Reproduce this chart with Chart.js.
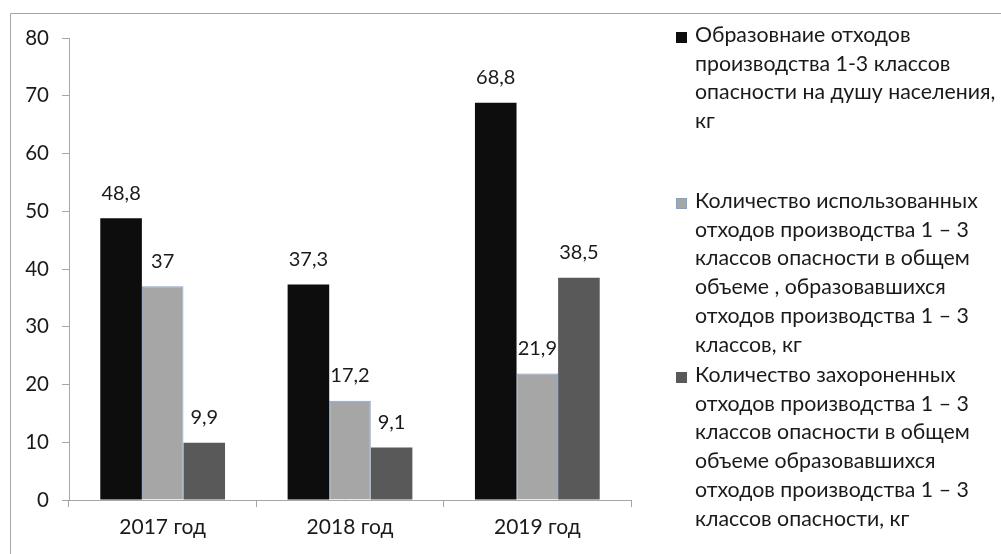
<!DOCTYPE html>
<html>
<head>
<meta charset="utf-8">
<script src="https://cdn.jsdelivr.net/npm/chart.js@4"></script>
<style>
  html, body { margin: 0; padding: 0; background: #fff; }
  #wrap { width: 1001px; height: 554px; position: relative; }
</style>
</head>
<body>
<div id="wrap"><canvas id="wasteChart" width="1001" height="554"></canvas></div>
<script>
// Данные
const years = ["2017 год", "2018 год", "2019 год"];
const generated = [48.8, 37.3, 68.8];
const used = [37, 17.2, 21.9];
const buried = [9.9, 9.1, 38.5];
const yTicks = [0, 10, 20, 30, 40, 50, 60, 70, 80];

const legendLines = [
  ["Образовнаие отходов", "производства 1-3 классов", "опасности на душу населения,", "кг"],
  ["Количество использованных", "отходов производства 1 – 3", "классов опасности в общем", "объеме , образовавшихся", "отходов производства 1 – 3", "классов, кг"],
  ["Количество захороненных", "отходов производства 1 – 3", "классов опасности в общем", "объеме образовавшихся", "отходов производства 1 – 3", "классов опасности, кг"]
];

const FONT = "Lato, 'Open Sans', sans-serif";
const TEXT = "#1a1a1a";

// Подписи значений над столбцами
const valueLabels = {
  id: "valueLabels",
  afterDatasetsDraw(chart) {
    const ctx = chart.ctx;
    ctx.save();
    ctx.font = "20px " + FONT;
    ctx.fillStyle = TEXT;
    ctx.textAlign = "center";
    ctx.textBaseline = "middle";
    chart.data.datasets.forEach((ds, i) => {
      chart.getDatasetMeta(i).data.forEach((bar, j) => {
        ctx.fillText(String(ds.data[j]).replace(".", ","), bar.x, bar.y - 25);
      });
    });
    ctx.restore();
  }
};

// Рамка и легенда справа
const sideLegend = {
  id: "sideLegend",
  beforeDraw(chart) {
    const ctx = chart.ctx;
    ctx.save();
    ctx.strokeStyle = "#a6a6a6";
    ctx.lineWidth = 1;
    ctx.beginPath();
    ctx.moveTo(10.5, 600);
    ctx.lineTo(10.5, 13.5);
    ctx.lineTo(1001, 13.5);
    ctx.stroke();
    ctx.restore();
  },
  afterDraw(chart) {
    const ctx = chart.ctx;
    const starts = [42, 208, 382];
    const lh = 28.7;
    ctx.save();
    ctx.font = "21.3px " + FONT;
    ctx.textBaseline = "alphabetic";
    chart.data.datasets.forEach((ds, i) => {
      const y0 = starts[i];
      ctx.fillStyle = ds.backgroundColor;
      ctx.fillRect(676, y0 - 10, 11, 11);
      if (ds.borderWidth) {
        ctx.strokeStyle = ds.borderColor;
        ctx.lineWidth = 1;
        ctx.strokeRect(676.5, y0 - 9.5, 10, 10);
      }
      ctx.fillStyle = TEXT;
      legendLines[i].forEach((line, k) => {
        ctx.fillText(line, 695, y0 + k * lh);
      });
    });
    ctx.restore();
  }
};

new Chart(document.getElementById("wasteChart"), {
  type: "bar",
  data: {
    labels: years,
    datasets: [
      { label: legendLines[0].join(" "), data: generated, backgroundColor: "#0d0d0d", borderWidth: 0 },
      { label: legendLines[1].join(" "), data: used, backgroundColor: "#a6a6a6", borderColor: "#7aa3d6", borderWidth: 1 },
      { label: legendLines[2].join(" "), data: buried, backgroundColor: "#595959", borderWidth: 0 }
    ]
  },
  options: {
    responsive: false,
    animation: false,
    layout: { padding: { left: 0, top: 38, right: 370, bottom: 0 } },
    datasets: { bar: { categoryPercentage: 0.666, barPercentage: 1 } },
    plugins: {
      legend: { display: false },
      tooltip: { enabled: false }
    },
    scales: {
      x: {
        grid: { display: true, drawOnChartArea: false, offset: true, tickLength: 7, color: "#a6a6a6" },
        border: { color: "#a6a6a6" },
        ticks: { font: { family: FONT, size: 21 }, color: TEXT, padding: 8 },
        afterFit(scale) { scale.height = 54; }
      },
      y: {
        min: 0,
        max: 80,
        afterBuildTicks(scale) { scale.ticks = yTicks.map(v => ({ value: v })); },
        grid: { display: true, drawOnChartArea: false, tickLength: 7, color: "#a6a6a6" },
        border: { color: "#a6a6a6" },
        ticks: { font: { family: FONT, size: 20.5 }, color: TEXT, padding: 13 },
        afterFit(scale) { scale.width = 69; }
      }
    }
  },
  plugins: [valueLabels, sideLegend]
});
</script>
</body>
</html>
